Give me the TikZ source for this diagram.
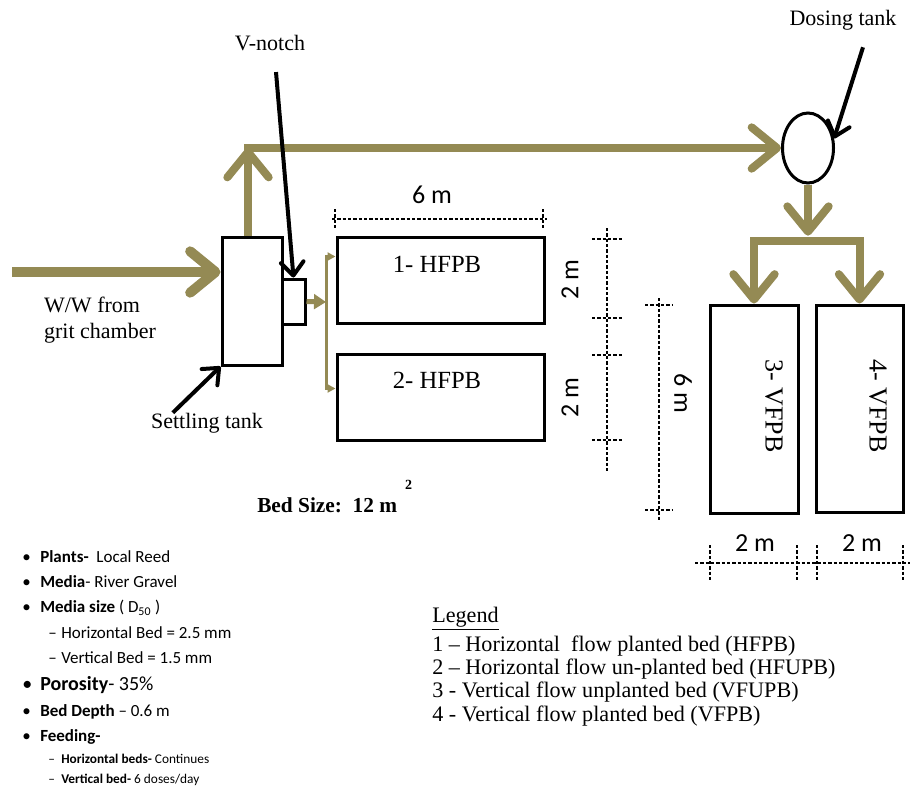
\documentclass[tikz,border=0pt]{standalone}
\usepackage{fontspec}
\setmainfont{Liberation Serif}
\newfontfamily\calib{Carlito}
\usepackage{tikz}
\usetikzlibrary{arrows.meta, positioning, shapes.geometric}
\usepackage{xcolor}
\definecolor{wwolive}{HTML}{948A54}
\newcommand\itemdot{\makebox[13.5pt][l]{\textbullet}}
\newcommand\subdash{\makebox[9.75pt][l]{\textendash}}

\begin{document}
\begin{tikzpicture}[
  x=0.75pt, y=-0.75pt,
  tank/.style={draw, line width=2.25pt, inner sep=0pt},
  flow/.style={draw=wwolive, line width=6pt,
               -{Straight Barb[length=19pt, width=31pt, round]}},
  feed/.style={draw=wwolive, line width=2.25pt,
               -{Triangle[length=6pt, width=6pt]}},
  pointer/.style={draw, line width=3pt,
                  -{Straight Barb[length=10pt, width=17pt, round]}},
  dimline/.style={line width=0.9pt, dash pattern=on 2.5pt off 1.5pt},
  lbl/.style={font=\fontsize{16.5}{19.5}\selectfont, inner sep=0pt},
  bedtxt/.style={font=\fontsize{18.5}{20}\selectfont, inner sep=0pt},
  dimtxt/.style={font=\calib\fontsize{19.5}{20}\selectfont, inner sep=0pt},
  spec/.style={font=\calib\fontsize{12.75}{14}\selectfont, anchor=west,
               inner sep=0pt},
  legtxt/.style={font=\fontsize{16.6}{19}\selectfont, anchor=west, inner sep=0pt}
]
\useasboundingbox (0,0) rectangle (910,789);

% === Tanks and beds (pixel grid, y downwards) ===
\node[tank, minimum width=45pt, minimum height=96pt] (settle) at (252,301) {};
\node[tank, minimum width=17.25pt, minimum height=33.75pt] (notch) at (293.5,301.5) {};
\node[tank, minimum width=155.25pt, minimum height=64.5pt] (bedA) at (440.5,280) {};
\node[tank, minimum width=155.25pt, minimum height=64.5pt] (bedB) at (440.5,397) {};
\node[tank, minimum width=66pt, minimum height=156pt] (bedC) at (754,409) {};
\node[tank, minimum width=65.25pt, minimum height=155.25pt] (bedD) at (859.5,408.5) {};
\node[tank, ellipse, minimum width=38.25pt, minimum height=52.5pt] (dose) at (808,148) {};

\node[bedtxt] (tA) at (437,264) {1- HFPB};
\node[bedtxt] (tB) at (437,380) {2- HFPB};
\node[bedtxt, font=\fontsize{19.5}{20}\selectfont, rotate=-90] (tC) at (774,406) {3- VFPB};
\node[bedtxt, font=\fontsize{19.5}{20}\selectfont, rotate=-90] (tD) at (878,406) {4- VFPB};

% === Main flow ===
\coordinate (inlet) at (12,272);
\coordinate (riser) at (248,148);
\coordinate (split) at (808,241);
\coordinate (fork) at (326,302);

\draw[flow, line width=7.5pt] (inlet) -- (inlet -| settle.west);
\draw[flow] (riser |- settle.north) -- (riser);
\draw[flow] ([xshift=-3pt]riser) -- (dose.west);
\draw[flow] (dose.south) -- ([yshift=4pt]split);
\draw[flow] (split) -| (bedC.north);
\draw[flow] (split) -| (bedD.north);

% feed from the V-notch to the horizontal beds
\draw[feed, line width=3.75pt, -{Triangle[length=9pt, width=11pt]}] (notch.east) -- (fork);
\draw[feed] (fork) |- ([yshift=-15.75pt]bedA.north west);
\draw[feed] (fork) |- ([yshift=-27pt]bedB.north west);

% === Labels with pointers ===
\node[lbl, align=left] (wwlbl) at (100,320) {W/W from\\grit chamber};
\node[lbl] (vlbl) at (270,43) {V-notch};
\node[lbl] (dlbl) at (843,20) {Dosing tank};
\node[lbl] (stlbl) at (207,423) {Settling tank};

\draw[pointer] ([shift={(6,21)}]vlbl.south) -- (notch.north);
\draw[pointer] ([shift={(20,17)}]dlbl.south) -- (dose.20);
\draw[pointer] ([shift={(22,0)}]stlbl.north west) -- (settle.south west);

\node[lbl, anchor=base west, font=\bfseries\fontsize{16}{18}\selectfont] (bsize) at (257,512)
  {Bed Size:\ \ 12 m\hspace{6pt}\raisebox{17pt}{\fontsize{10.5}{11}\selectfont 2}};

% === Dimensions ===
% 6 m over the horizontal beds
\draw[dimline] (332,219) -- (547,219);
\draw[dimline] (335,209) -- (335,230);
\draw[dimline] (543,209) -- (543,230);
\node[dimtxt] (dtop) at (432,195) {6 m};

% 2 m + 2 m beside the horizontal beds
\draw[dimline] (607,228) -- (607,472);
\draw[dimline] (592,239) -- (622,239);
\draw[dimline] (592,318) -- (622,318);
\draw[dimline] (592,355) -- (622,355);
\draw[dimline] (592,440) -- (622,440);
\node[dimtxt, rotate=90] (dsideA) at (570,280) {2 m};
\node[dimtxt, rotate=90] (dsideB) at (570,398) {2 m};

% 6 m beside the vertical beds
\draw[dimline] (659,298) -- (659,520);
\draw[dimline] (645,305) -- (673,305);
\draw[dimline] (645,510) -- (673,510);
\node[dimtxt, rotate=-90] (dvert) at (683,393) {6 m};

% 2 m under the vertical beds
\draw[dimline] (695,563) -- (910,563);
\draw[dimline] (710,545) -- (710,582);
\draw[dimline] (797,545) -- (797,582);
\draw[dimline] (817,545) -- (817,582);
\draw[dimline] (903,545) -- (903,582);
\node[dimtxt] (dbotA) at (755,543) {2 m};
\node[dimtxt] (dbotB) at (862,543) {2 m};

% === Bed specification ===
\node[spec] (sPlants) at (22,557) {\itemdot\textbf{Plants-}\ \ Local Reed};
\node[spec] (sMedia) at (22,582) {\itemdot\textbf{Media}- River Gravel};
\node[spec] (sSize) at (22,608) {\itemdot\textbf{Media size} ( D\textsubscript{50} )};
\node[spec] (sHor) at (48,633) {\subdash Horizontal Bed = 2.5 mm};
\node[spec] (sVer) at (48,658) {\subdash Vertical Bed = 1.5 mm};
\node[spec, font=\calib\fontsize{15}{16}\selectfont] (sPor) at (22,685) {\itemdot\textbf{Porosity}- 35\%};
\node[spec] (sDepth) at (22,712) {\itemdot\textbf{Bed Depth} \textendash\ 0.6 m};
\node[spec] (sFeed) at (22,737) {\itemdot\textbf{Feeding-}};
\node[spec, font=\calib\fontsize{10}{11}\selectfont] (sFeedH) at (48,759)
  {\subdash\textbf{Horizontal beds-} Continues};
\node[spec, font=\calib\fontsize{10}{11}\selectfont] (sFeedV) at (48,780)
  {\subdash\textbf{Vertical bed-} 6 doses/day};

% === Legend ===
\node[legtxt] (lgHead) at (432,619) {\underline{Legend}};
\node[legtxt] (lg1) at (432,646) {1 -- Horizontal\ \ flow planted bed (HFPB)};
\node[legtxt] (lg2) at (432,669) {2 -- Horizontal flow un-planted bed (HFUPB)};
\node[legtxt] (lg3) at (432,692) {3 - Vertical flow unplanted bed (VFUPB)};
\node[legtxt] (lg4) at (432,716) {4 - Vertical flow planted bed (VFPB)};

\end{tikzpicture}
\end{document}
